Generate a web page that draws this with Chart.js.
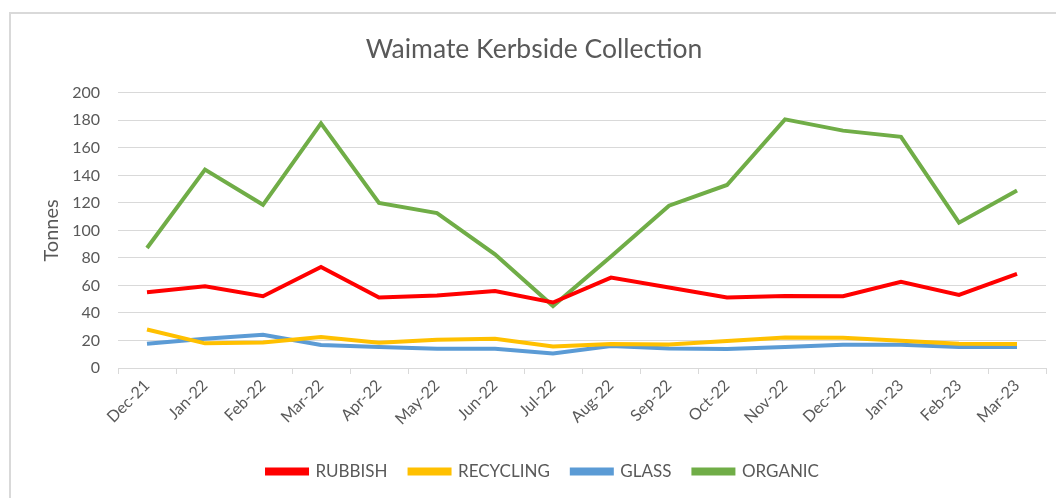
<!DOCTYPE html>
<html>
<head>
<meta charset="utf-8">
<script src="https://cdn.jsdelivr.net/npm/chart.js@4.4.0/dist/chart.umd.min.js"></script>
<style>
  html, body { margin: 0; padding: 0; background: #fff; overflow: hidden; }
  #wrap { position: relative; width: 1056px; height: 498px; }
  #frame { position: absolute; left: 9px; top: 12px; width: 1200px; height: 600px;
           border-left: 2px solid #d9d9d9; border-top: 2px solid #d9d9d9; }
  #box { position: absolute; left: 0; top: 0; width: 1056px; height: 498px; }
</style>
</head>
<body>
<div id="wrap">
  <div id="frame"></div>
  <div id="box"><canvas id="chart-area" width="1056" height="498"></canvas></div>
</div>
<script>
// months on the x axis
var months = ['Dec-21', 'Jan-22', 'Feb-22', 'Mar-22', 'Apr-22', 'May-22', 'Jun-22', 'Jul-22',
              'Aug-22', 'Sep-22', 'Oct-22', 'Nov-22', 'Dec-22', 'Jan-23', 'Feb-23', 'Mar-23'];

// tonnes per month
var rubbish   = [55, 59.4, 52.2, 73.4, 51.2, 52.7, 56, 47.6, 65.7, 58.5, 51.2, 52.4, 52.2, 62.6, 53.1, 68.4];
var recycling = [28, 17.9, 18.6, 22.5, 18.4, 20.5, 21.3, 15.7, 17.4, 17.1, 19.6, 22.2, 22, 19.8, 17.6, 17.4];
var glass     = [17.6, 21.3, 24.2, 16.7, 15.2, 14, 14, 10.6, 15.9, 14.2, 13.8, 15.2, 16.9, 16.9, 15.2, 15.2];
var organic   = [87.2, 144.2, 118.6, 177.8, 120, 112.6, 82.6, 45, 81, 118, 133, 180.7, 172.5, 168, 105.6, 129];

var textColor = '#595959';
var gridColor = '#d9d9d9';
var fontName = 'Lato, "Open Sans", sans-serif';

function line(label, data, color) {
  return {
    label: label,
    data: data,
    borderColor: color,
    backgroundColor: color,
    borderWidth: 4,
    pointRadius: 0,
    pointHoverRadius: 0,
    tension: 0,
    fill: false
  };
}

// the title sits a bit left of the legend's centre in the original
var shiftTitle = {
  id: 'shiftTitle',
  afterLayout: function(chart) {
    var t = chart.titleBlock;
    if (t) { t.left -= 9; t.right -= 9; }
  }
};

var config = {
  type: 'line',
  data: {
    labels: months,
    datasets: [
      line('RUBBISH', rubbish, '#ff0000'),
      line('RECYCLING', recycling, '#ffc000'),
      line('GLASS', glass, '#5b9bd5'),
      line('ORGANIC', organic, '#70ad47')
    ]
  },
  options: {
    responsive: false,
    animation: false,
    devicePixelRatio: 1,
    layout: { padding: { left: 40, right: 10, top: 0, bottom: 8 } },
    plugins: {
      title: {
        display: true,
        text: 'Waimate Kerbside Collection',
        color: textColor,
        font: { family: fontName, size: 26.5, weight: 'normal' },
        padding: { top: 34, bottom: 27 }
      },
      legend: {
        position: 'bottom',
        labels: {
          color: textColor,
          font: { family: fontName, size: 17 },
          boxWidth: 40,
          boxHeight: 4,
          padding: 22
        }
      },
      tooltip: { enabled: false }
    },
    scales: {
      x: {
        offset: true,
        grid: { drawOnChartArea: false, drawTicks: true, tickLength: 6, color: gridColor, offset: true },
        border: { display: true, color: gridColor },
        ticks: {
          color: textColor,
          font: { family: fontName, size: 16 },
          autoSkip: false,
          minRotation: 45,
          maxRotation: 45,
          padding: 2
        },
        afterFit: function(scale) { scale.height = 73; }
      },
      y: {
        min: 0,
        max: 200,
        grid: { color: gridColor, drawTicks: false },
        border: { display: false },
        ticks: {
          stepSize: 20,
          color: textColor,
          font: { family: fontName, size: 16 },
          padding: 18
        },
        title: {
          display: true,
          text: 'Tonnes',
          color: textColor,
          font: { family: fontName, size: 20, weight: 'normal' },
          padding: { top: 0, bottom: 6 }
        },
        afterFit: function(scale) { scale.width = 78; }
      }
    }
  },
  plugins: [shiftTitle]
};

var ctx = document.getElementById('chart-area').getContext('2d');
window.myLine = new Chart(ctx, config);
</script>
</body>
</html>
